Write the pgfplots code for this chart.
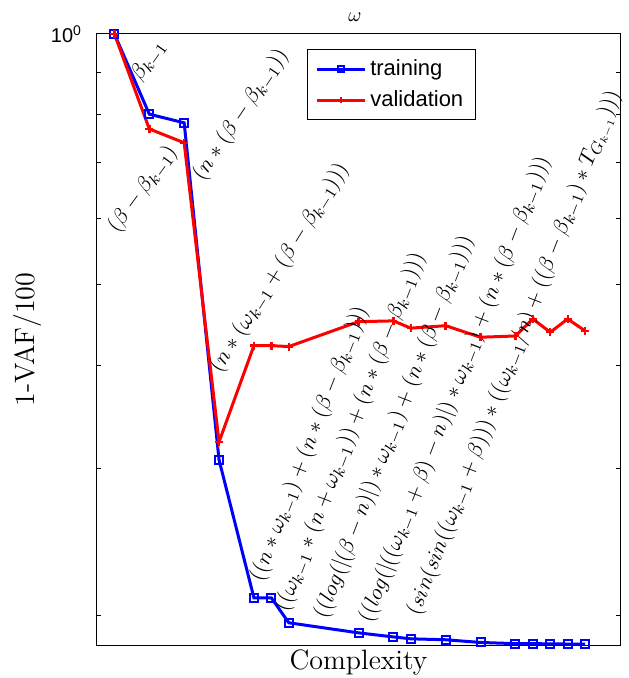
\documentclass[border=0pt]{standalone}
\usepackage{fontspec}
\usepackage{pgfplots}
\pgfplotsset{compat=1.18}
\newfontfamily\helv{Liberation Sans}
\pgfplotstableread{
x y
1 1.0
3 0.801
5 0.782
7 0.3077
9 0.210
10 0.210
11 0.196
15 0.1906
17 0.1885
18 0.1875
20 0.187
22 0.1856
24 0.1850
25 0.1850
26 0.1849
27 0.1848
28 0.1847
}\training
\pgfplotstableread{
x y
1 1.0
3 0.769
5 0.740
7 0.3233
9 0.422
10 0.422
11 0.421
15 0.451
17 0.452
18 0.443
20 0.446
22 0.432
24 0.4335
25 0.4544
26 0.438
27 0.4544
28 0.4396
}\validation
\begin{document}
\begin{tikzpicture}
\begin{axis}[
  scale only axis, width=261.5pt, height=305.5pt,
  xmin=0, xmax=30, ymode=log, ymin=0.1843, ymax=1,
  xtick=\empty,
  ytick={1}, yticklabels={{\helv\fontsize{10}{12}\selectfont 10\textsuperscript{0}}},
  minor ytick={0.2,0.3,0.4,0.5,0.6,0.7,0.8,0.9},
  tick align=inside, major tick length=2pt, minor tick length=2pt,
  axis line style={line width=0.5pt},
  every tick/.style={black, line width=0.5pt},
  yticklabel style={xshift=-4pt},
  every axis title shift=0pt,
  title={$\omega$},
  title style={at={(axis description cs:0.493,1)}, anchor=base, yshift=6pt},
  xlabel={Complexity},
  xlabel style={font=\fontsize{14}{16}\selectfont, at={(axis description cs:0.5,0)}, anchor=north, yshift=1pt},
  ylabel={1-VAF/100},
  ylabel style={font=\fontsize{14}{16}\selectfont, at={(axis description cs:-0.132,0.5)}, anchor=center},
  legend cell align=left,
  legend style={at={(axis description cs:0.4015,0.975)}, anchor=north west,
    font=\helv\fontsize{11}{13}\selectfont, draw=black, line width=0.5pt,
    inner xsep=4pt, inner ysep=3pt, row sep=2pt},
  legend image code/.code={\draw[mark repeat=2,mark phase=2,mark size=1.5pt,#1] plot coordinates {(0cm,0cm) (0.42cm,0cm) (0.84cm,0cm)};},
  clip=false,
]
\addplot[blue, line width=1.5pt, mark=square, mark size=2pt, mark options={solid, line width=1pt}] table {\training};
\addlegendentry{training}
\addplot[red, line width=1.5pt, mark=+, mark size=2pt, mark options={solid, line width=1.2pt}] table {\validation};
\addlegendentry{validation}

\begin{scope}[every node/.style={font=\fontsize{11}{13}\selectfont, inner sep=0pt, anchor=base west}]
\node[rotate=55] at (axis cs:2.47,0.875) {$\beta_{k-1}$};
\node[rotate=54] at (axis cs:1.15,0.575) {$(\beta-\beta_{k-1})$};
\node[rotate=56] at (axis cs:6.05,0.665) {$(n*(\beta-\beta_{k-1}))$};
\node[rotate=58] at (axis cs:7.05,0.3903) {$(n*(\omega_{k-1}+(\beta-\beta_{k-1})))$};
\node[rotate=69] at (axis cs:9.47,0.2189) {$((n*\omega_{k-1})+(n*(\beta-\beta_{k-1})))$};
\node[rotate=69] at (axis cs:10.90,0.2014) {$((\omega_{k-1}*(n+\omega_{k-1}))+(n*(\beta-\beta_{k-1})))$};
\node[rotate=69] at (axis cs:13.14,0.1975) {$((log(|(\beta-n)|)*\omega_{k-1})+(n*(\beta-\beta_{k-1})))$};
\node[rotate=69] at (axis cs:15.72,0.1953) {$((log(|((\omega_{k-1}+\beta)-n)|)*\omega_{k-1})+(n*(\beta-\beta_{k-1})))$};
\node[rotate=69] at (axis cs:18.47,0.1992) {$(sin(sin((\omega_{k-1}+\beta)))*((\omega_{k-1}/n)+((\beta-\beta_{k-1})*T_{G_{k-1}})))$};
\end{scope}
\end{axis}
\pgfresetboundingbox
\path ([xshift=-48.5pt,yshift=-16.5pt]current axis.south west) rectangle ([xshift=4.5pt,yshift=17pt]current axis.north east);
\end{tikzpicture}
\end{document}
